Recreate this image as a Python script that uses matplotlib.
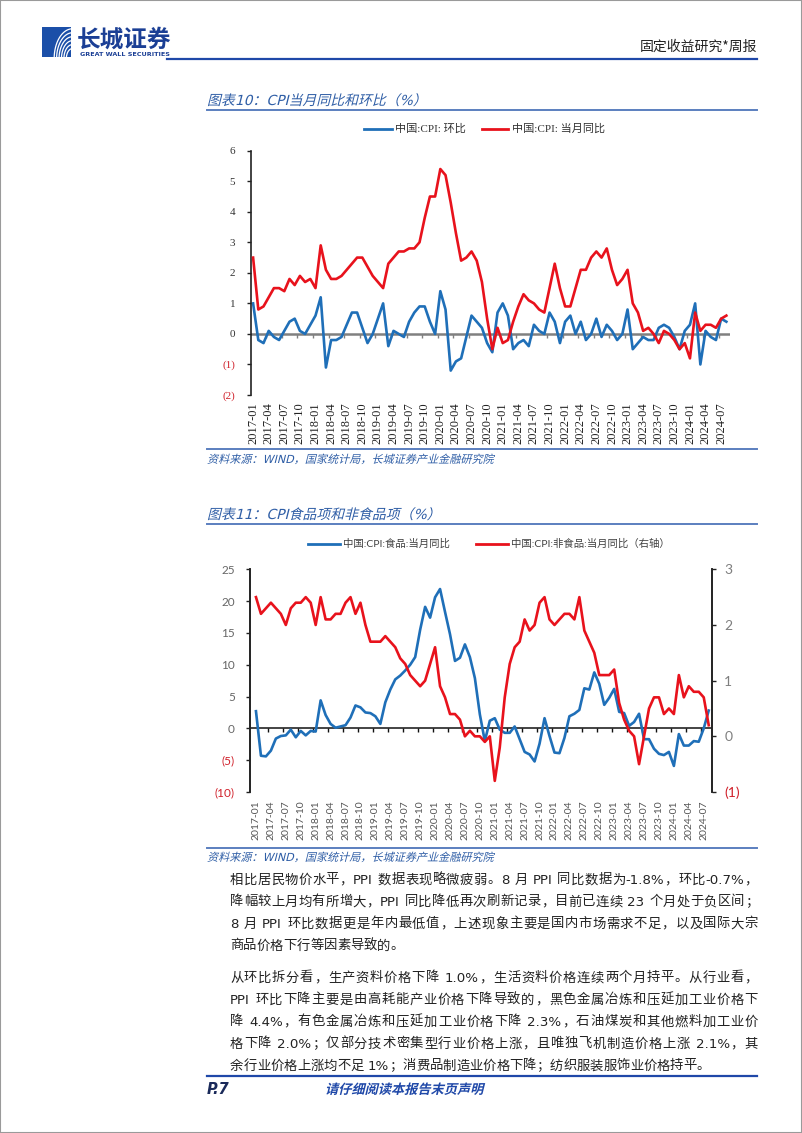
import re
import matplotlib
matplotlib.use('Agg')
import matplotlib.pyplot as plt
import matplotlib.lines as mlines
import matplotlib.patches as mpatches
from matplotlib.markers import TICKDOWN
from matplotlib.textpath import TextPath
from matplotlib.font_manager import FontProperties
from matplotlib.transforms import Affine2D
import numpy as np
import pandas as pd

# ---- data ----
months = pd.date_range('2017-01-01', periods=92, freq='MS').strftime('%Y-%m').tolist()

# CPI 环比
cpi_mom = [1.0, -0.2, -0.3, 0.1, -0.1, -0.2, 0.1, 0.4, 0.5, 0.1, 0.0, 0.3,
           0.6, 1.2, -1.1, -0.2, -0.2, -0.1, 0.3, 0.7, 0.7, 0.2, -0.3, 0.0,
           0.5, 1.0, -0.4, 0.1, 0.0, -0.1, 0.4, 0.7, 0.9, 0.9, 0.4, 0.0,
           1.4, 0.8, -1.2, -0.9, -0.8, -0.1, 0.6, 0.4, 0.2, -0.3, -0.6, 0.7,
           1.0, 0.6, -0.5, -0.3, -0.2, -0.4, 0.3, 0.1, 0.0, 0.7, 0.4, -0.3,
           0.4, 0.6, 0.0, 0.4, -0.2, 0.0, 0.5, -0.1, 0.3, 0.1, -0.2, 0.0,
           0.8, -0.5, -0.3, -0.1, -0.2, -0.2, 0.2, 0.3, 0.2, -0.1, -0.5, 0.1,
           0.3, 1.0, -1.0, 0.1, -0.1, -0.2, 0.5, 0.4]

# CPI 当月同比
cpi_yoy = [2.5, 0.8, 0.9, 1.2, 1.5, 1.5, 1.4, 1.8, 1.6, 1.9, 1.7, 1.8,
           1.5, 2.9, 2.1, 1.8, 1.8, 1.9, 2.1, 2.3, 2.5, 2.5, 2.2, 1.9,
           1.7, 1.5, 2.3, 2.5, 2.7, 2.7, 2.8, 2.8, 3.0, 3.8, 4.5, 4.5,
           5.4, 5.2, 4.3, 3.3, 2.4, 2.5, 2.7, 2.4, 1.7, 0.5, -0.5, 0.2,
           -0.3, -0.2, 0.4, 0.9, 1.3, 1.1, 1.0, 0.8, 0.7, 1.5, 2.3, 1.5,
           0.9, 0.9, 1.5, 2.1, 2.1, 2.5, 2.7, 2.5, 2.8, 2.1, 1.6, 1.8,
           2.1, 1.0, 0.7, 0.1, 0.2, 0.0, -0.3, 0.1, 0.0, -0.2, -0.5, -0.3,
           -0.8, 0.7, 0.1, 0.3, 0.3, 0.2, 0.5, 0.6]

# CPI 食品 当月同比 (左轴)
food_yoy = [2.7, -4.3, -4.4, -3.5, -1.6, -1.2, -1.1, -0.2, -1.4, -0.4, -1.1, -0.4,
            -0.5, 4.4, 2.1, 0.7, 0.1, 0.3, 0.5, 1.7, 3.6, 3.3, 2.5, 2.4,
            1.9, 0.7, 4.1, 6.1, 7.7, 8.3, 9.1, 10.0, 11.2, 15.5, 19.1, 17.4,
            20.6, 21.9, 18.3, 14.8, 10.6, 11.1, 13.2, 11.2, 7.9, 2.2, -2.0, 1.2,
            1.6, -0.2, -0.7, -0.7, 0.3, -1.7, -3.7, -4.1, -5.2, -2.4, 1.6, -1.2,
            -3.8, -3.9, -1.5, 1.9, 2.3, 2.9, 6.3, 6.1, 8.8, 7.0, 3.7, 4.8,
            6.2, 2.6, 2.4, 0.4, 1.0, 2.3, -1.7, -1.7, -3.2, -4.0, -4.2, -3.7,
            -5.9, -0.9, -2.7, -2.7, -2.0, -2.1, 0.0, 2.8]

# CPI 非食品 当月同比 (右轴)
nonfood_yoy = [2.5, 2.2, 2.3, 2.4, 2.3, 2.2, 2.0, 2.3, 2.4, 2.4, 2.5, 2.4,
               2.0, 2.5, 2.1, 2.1, 2.2, 2.2, 2.4, 2.5, 2.2, 2.4, 2.0, 1.7,
               1.7, 1.7, 1.8, 1.7, 1.6, 1.4, 1.3, 1.1, 1.0, 0.9, 1.0, 1.3,
               1.6, 0.9, 0.7, 0.4, 0.4, 0.3, 0.0, 0.1, 0.0, 0.0, -0.1, 0.0,
               -0.8, -0.2, 0.7, 1.3, 1.6, 1.7, 2.1, 1.9, 2.0, 2.4, 2.5, 2.1,
               2.0, 2.1, 2.2, 2.2, 2.1, 2.5, 1.9, 1.7, 1.5, 1.1, 1.1, 1.1,
               1.2, 0.6, 0.3, 0.1, 0.0, -0.5, 0.0, 0.5, 0.7, 0.7, 0.4, 0.5,
               0.4, 1.1, 0.7, 0.9, 0.8, 0.8, 0.7, 0.2]

y1_ticks = [-2, -1, 0, 1, 2, 3, 4, 5, 6]
y1_labels = ['(2)', '(1)', '0', '1', '2', '3', '4', '5', '6']
y2_ticks = [-10, -5, 0, 5, 10, 15, 20, 25]
y2_labels = ['(10)', '(5)', '0', '5', '10', '15', '20', '25']
y2r_ticks = [-1, 0, 1, 2, 3]
y2r_labels = ['(1)', '0', '1', '2', '3']

body_p1 = ['相比居民物价水平，PPI 数据表现略微疲弱。8 月 PPI 同比数据为-1.8%，环比-0.7%，',
           '降幅较上月均有所增大，PPI 同比降低再次刷新记录，目前已连续 23 个月处于负区间；',
           '8 月 PPI 环比数据更是年内最低值，上述现象主要是国内市场需求不足，以及国际大宗',
           '商品价格下行等因素导致的。']
body_p2 = ['从环比拆分看，生产资料价格下降 1.0%，生活资料价格连续两个月持平。从行业看，',
           'PPI 环比下降主要是由高耗能产业价格下降导致的，黑色金属冶炼和压延加工业价格下',
           '降 4.4%，有色金属冶炼和压延加工业价格下降 2.3%，石油煤炭和其他燃料加工业价',
           '格下降 2.0%；仅部分技术密集型行业价格上涨，且唯独飞机制造价格上涨 2.1%，其',
           '余行业价格上涨均不足 1%；消费品制造业价格下降；纺织服装服饰业价格持平。']

# ---- page setup ----
CJK = ['DejaVu Sans', 'Noto Sans CJK SC']
plt.rcParams['font.family'] = CJK

W, H = 802, 1133
fig = plt.figure(figsize=(W / 100, H / 100), dpi=100)

def fx(x):
    return x / W

def fy(y):
    return 1 - y / H

def hline(x0, x1, y, color, lw):
    fig.add_artist(mlines.Line2D([fx(x0), fx(x1)], [fy(y), fy(y)], color=color, lw=lw))

def slanted(x, y, s, size, color, weight='normal'):
    # fake italic for the CJK titles: text path with a skew
    fp = FontProperties(family=CJK, weight=weight)
    tp = TextPath((0, 0), s, size=size, prop=fp)
    k = fig.dpi / 72
    tr = Affine2D().skew_deg(14, 0).scale(k).translate(x, H - y - 0.36 * size * k)
    fig.add_artist(mpatches.PathPatch(tp, transform=tr, color=color, lw=0))

BLUE = '#1f6fb8'
RED = '#e8121c'
NAVY = '#1f48a8'
TITLE_C = '#2f5ea6'
NEG = '#d0202a'

# page frame
fig.add_artist(mpatches.Rectangle((0, 0), 1, 1, fill=False, ec='#9a9a9a', lw=1.5,
                                  transform=fig.transFigure))

# logo
lg = fig.add_axes([fx(42), fy(57), 29 / W, 30 / H])
lg.set_xlim(0, 1)
lg.set_ylim(0, 1)
lg.axis('off')
lg.add_patch(mpatches.Rectangle((0, 0), 1, 1, color='#1b4fa8'))
t = np.linspace(0, np.pi / 2, 50)
for r in [0.3, 0.42, 0.54, 0.66, 0.78, 0.9]:
    lg.plot(1.05 - r * np.cos(t) * 0.7, -0.05 + r * np.sin(t) * 1.1, color='white', lw=0.9,
            clip_on=True)
fig.text(fx(77), fy(40), '长城证券', fontsize=17, color='#1b3f95', weight='bold',
         family=['Noto Sans CJK SC'], va='center')
fig.text(fx(80), fy(54), 'GREAT WALL SECURITIES', fontsize=4.6, color='#1b3f95',
         weight='bold', va='center')
fig.text(fx(757), fy(47), '固定收益研究*周报', ha='right', va='center', fontsize=10,
         color='#222222', family=['Noto Sans CJK SC'])
hline(167, 757, 59, NAVY, 1.6)

months_idx = np.arange(len(months))

# ---- chart 1 ----
slanted(207, 100, '图表10：CPI当月同比和环比（%）', 10, TITLE_C)
hline(207, 757, 110, '#5b7fbf', 1.4)

fig.add_artist(mlines.Line2D([fx(364), fx(392)], [fy(129), fy(129)], color=BLUE, lw=2))
fig.text(fx(395), fy(129), '中国:CPI: 环比', fontsize=8, va='center', color='#333333',
         family=['Liberation Serif', 'Noto Sans CJK SC'])
fig.add_artist(mlines.Line2D([fx(482), fx(508)], [fy(129), fy(129)], color=RED, lw=2))
fig.text(fx(512), fy(129), '中国:CPI: 当月同比', fontsize=8, va='center', color='#333333',
         family=['Liberation Serif', 'Noto Sans CJK SC'])

ax1 = fig.add_axes([fx(250.5), fy(395), (730 - 250.5) / W, (395 - 150.7) / H])
ax1.axhline(0, color='#808080', lw=1.8, zorder=1)
ax1.plot(np.arange(2.5, 91, 3), np.zeros(len(np.arange(2.5, 91, 3))), ls='none',
         marker=TICKDOWN, ms=3, mew=1, color='#808080', zorder=1)
ax1.plot(months_idx, cpi_mom, color=BLUE, lw=1.9, zorder=2)
ax1.plot(months_idx, cpi_yoy, color=RED, lw=1.9, zorder=3)
ax1.set_xlim(-0.5, 91.7)
ax1.set_ylim(-2, 6)
for s in ['top', 'right', 'bottom']:
    ax1.spines[s].set_visible(False)
ax1.spines['left'].set_color('#222222')
ax1.spines['left'].set_linewidth(1.2)
ax1.set_yticks(y1_ticks)
ax1.set_yticklabels(y1_labels, family='Liberation Serif', fontsize=8)
for lab, v in zip(ax1.get_yticklabels(), y1_ticks):
    lab.set_color(NEG if v < 0 else '#333333')
ax1.tick_params(axis='y', length=3, width=1, color='#222222', pad=8)
ax1.set_xticks(months_idx[::3])
ax1.set_xticklabels(months[::3], rotation=90, family='Liberation Serif', fontsize=9,
                    color='#222222')
ax1.tick_params(axis='x', length=0, pad=5)
ax1.patch.set_alpha(0)

hline(207, 757, 449, '#5b7fbf', 1.4)
slanted(207, 459, '资料来源：WIND，国家统计局，长城证券产业金融研究院', 8, TITLE_C)

# ---- chart 2 ----
slanted(207, 514, '图表11：CPI食品项和非食品项（%）', 10, TITLE_C)
hline(207, 757, 524, '#5b7fbf', 1.4)

fig.add_artist(mlines.Line2D([fx(308), fx(340)], [fy(544), fy(544)], color=BLUE, lw=2))
fig.text(fx(343), fy(544), '中国:CPI:食品:当月同比', fontsize=7.5, va='center',
         color='#404040', family=['Lato', 'Noto Sans CJK SC'])
fig.add_artist(mlines.Line2D([fx(476), fx(508)], [fy(544), fy(544)], color=RED, lw=2))
fig.text(fx(511), fy(544), '中国:CPI:非食品:当月同比（右轴）', fontsize=7.5, va='center',
         color='#404040', family=['Lato', 'Noto Sans CJK SC'])

ax2 = fig.add_axes([fx(250), fy(792), (711.7 - 250) / W, (792 - 569.3) / H])
ax2.axhline(0, color='#111111', lw=1.1, zorder=1)
ax2.plot(np.arange(2.5, 91, 3), np.zeros(len(np.arange(2.5, 91, 3))), ls='none',
         marker=TICKDOWN, ms=3, mew=1, color='#111111', zorder=1)
ax2.plot(months_idx, food_yoy, color=BLUE, lw=1.9, zorder=2)
ax2.set_xlim(-1.2, 91.6)
ax2.set_ylim(-10, 25)
ax2r = ax2.twinx()
ax2r.plot(months_idx, nonfood_yoy, color=RED, lw=1.9)
ax2r.set_ylim(-1, 3)
for a in [ax2, ax2r]:
    for s in ['top', 'bottom']:
        a.spines[s].set_visible(False)
    a.spines['left'].set_color('#222222')
    a.spines['right'].set_color('#222222')
    a.spines['left'].set_linewidth(1.2)
    a.spines['right'].set_linewidth(1.2)
ax2.set_yticks(y2_ticks)
ax2.set_yticklabels(y2_labels, family='Lato', fontsize=8.5)
for lab, v in zip(ax2.get_yticklabels(), y2_ticks):
    lab.set_color(NEG if v < 0 else '#666666')
ax2.tick_params(axis='y', length=3, width=1, color='#222222', pad=8)
ax2r.set_yticks(y2r_ticks)
ax2r.set_yticklabels(y2r_labels, family='Lato', fontsize=10)
for lab, v in zip(ax2r.get_yticklabels(), y2r_ticks):
    lab.set_color(NEG if v < 0 else '#7f7f7f')
ax2r.tick_params(axis='y', length=3, width=1, color='#222222', pad=6)
ax2.set_xticks(months_idx[::3])
ax2.set_xticklabels(months[::3], rotation=90, family='Lato', fontsize=7.5, color='#555555')
ax2.tick_params(axis='x', length=0, pad=6)

hline(207, 757, 848, '#5b7fbf', 1.4)
slanted(207, 857, '资料来源：WIND，国家统计局，长城证券产业金融研究院', 8, TITLE_C)

# ---- body text, justified: CJK chars and latin words spread to the full width ----
BODY_FS = 9.6
X0, X1 = 230, 758
renderer = fig.canvas.get_renderer()
widths = {}

def tok_w(tok):
    if tok not in widths:
        a = fig.text(0, 0, 'x' + tok + 'x', fontsize=BODY_FS)
        b = fig.text(0, 0, 'xx', fontsize=BODY_FS)
        widths[tok] = a.get_window_extent(renderer).width - b.get_window_extent(renderer).width
        a.remove()
        b.remove()
    return widths[tok]

def body_line(s, y, justify=True):
    toks = re.findall(r'[!-~]+|.', s)
    ws = [tok_w(k) for k in toks]
    extra = (X1 - X0 - sum(ws)) / (len(toks) - 1) if justify else 0
    x = X0
    for k, w in zip(toks, ws):
        if k != ' ':
            fig.text(fx(x), fy(y), k, fontsize=BODY_FS, va='center', color='#222222')
        x += w + extra

for i, s in enumerate(body_p1):
    body_line(s, 880 + 22 * i, justify=(i < len(body_p1) - 1))
for i, s in enumerate(body_p2):
    body_line(s, 978 + 22 * i, justify=(i < len(body_p2) - 1))

# ---- footer ----
hline(207, 757, 1076, NAVY, 1.6)
fig.text(fx(207), fy(1089), 'P.7', fontsize=10.5, weight='bold', style='italic',
         color='#1a2a5a', va='center')
slanted(325, 1089, '请仔细阅读本报告末页声明', 9.5, NAVY, weight='bold')

fig.savefig('out.png', dpi=100)
